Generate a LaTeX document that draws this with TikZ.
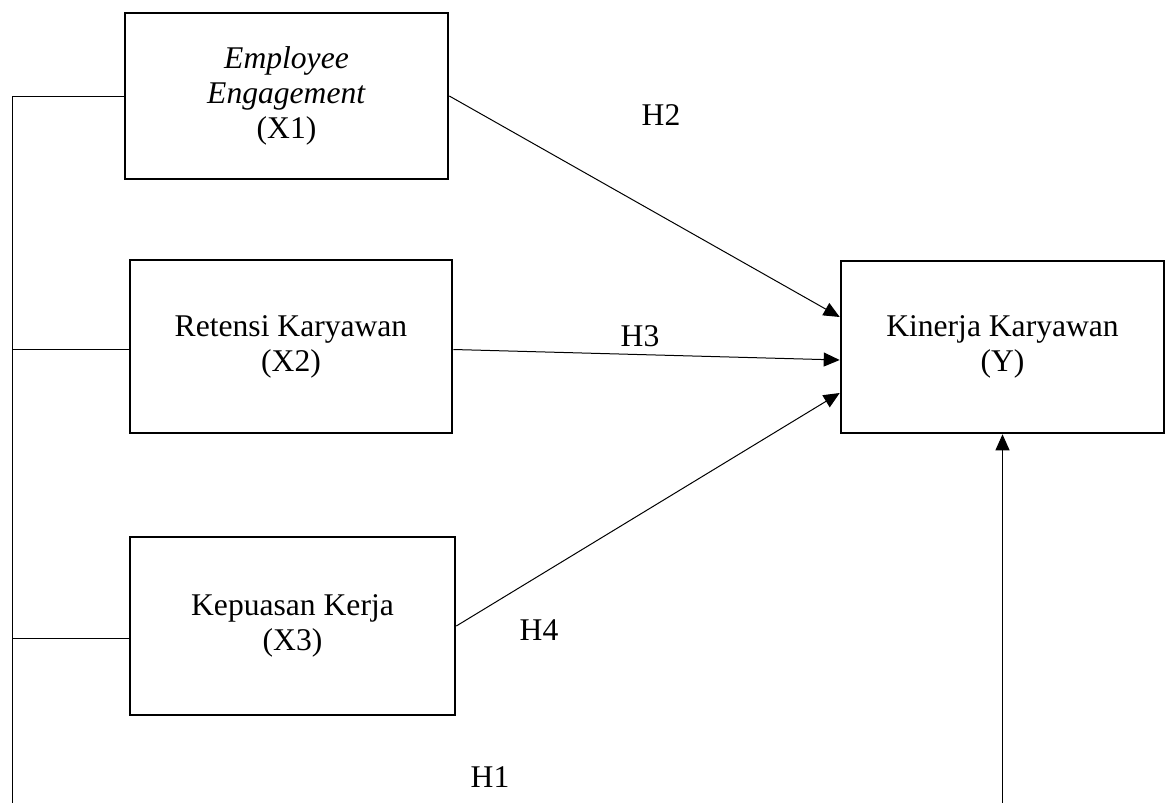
\documentclass[tikz,border=0pt]{standalone}
\usepackage{fontspec}
\setmainfont{Liberation Serif}
\usetikzlibrary{arrows.meta}

\begin{document}
\begin{tikzpicture}[x=0.5pt, y=-0.5pt,
        varbox/.style={draw, line width=1.3pt, align=center, inner sep=0pt,
            font=\fontsize{15.8}{17.5}\selectfont},
        hyp/.style={font=\fontsize{15.8}{18}\selectfont},
        link/.style={line width=0.5pt},
        path/.style={line width=0.5pt, -{Triangle[length=8pt, width=7pt]}}]
        \useasboundingbox (0,0) rectangle (1168,803);
        \node[varbox, minimum width=161.5pt, minimum height=83pt] (x1) at (286.5,96)
            {\textit{Employee}\\ \textit{Engagement}\\ (X1)};
        \node[varbox, minimum width=161pt, minimum height=86.5pt] (x2) at (291,346.5)
            {Retensi Karyawan\\ (X2)};
        \node[varbox, minimum width=162.5pt, minimum height=89pt] (x3) at (292.5,626)
            {Kepuasan Kerja\\ (X3)};
        \node[varbox, minimum width=161.5pt, minimum height=86pt] (y) at (1002.5,347)
            {Kinerja Karyawan\\ (Y)};
        \node[hyp] (h2) at (661,115) {H2};
        \node[hyp] (h3) at (640,336) {H3};
        \node[hyp] (h4) at (539,630) {H4};
        \node[hyp] (h1) at (490,777) {H1};
        \coordinate (left) at (12,803);
        \coordinate (bottom) at (1002.5,803);
        \draw[link] (x1.west) -| (left);
        \draw[link] ([yshift=-1.5pt]x2.west) -- ([yshift=-1.5pt]x2.west -| left);
        \draw[link] ([yshift=-6pt]x3.west) -- ([yshift=-6pt]x3.west -| left);
        \draw[path] (x1.east) -- ([yshift=15pt]y.west);
        \draw[path] ([yshift=-1.5pt]x2.east) -- ([yshift=-6.5pt]y.west);
        \draw[path] (x3.east) -- ([yshift=-23pt]y.west);
        \draw[path] (bottom) -- (y.south);
    \end{tikzpicture}
\end{document}
